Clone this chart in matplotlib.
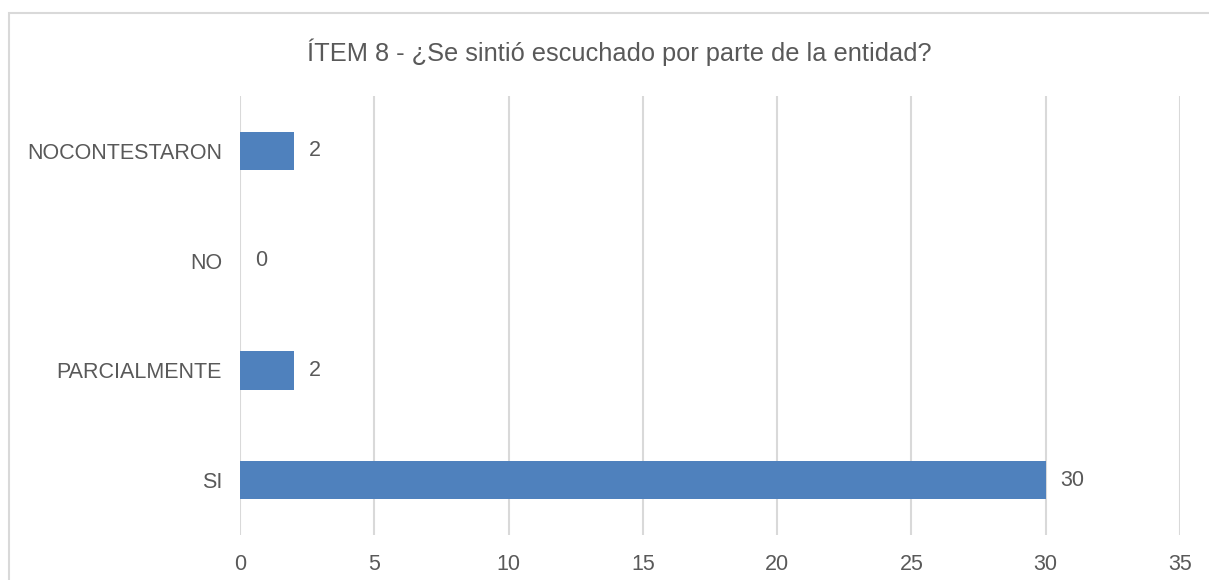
import matplotlib.pyplot as plt
from matplotlib.patches import Rectangle

categories = ["SI", "PARCIALMENTE", "NO", "NOCONTESTARON"]
values = [30, 2, 0, 2]
xticks = [0, 5, 10, 15, 20, 25, 30, 35]

title = "ÍTEM 8 - ¿Se sintió escuchado por parte de la entidad?"
bar_color = "#4F81BD"
text_color = "#595959"
grid_color = "#D9D9D9"

plt.rcParams['font.family'] = ['Liberation Sans', 'DejaVu Sans']

W, H = 1209, 580
fig = plt.figure(figsize=(W / 100, H / 100), dpi=100)
ax = fig.add_axes([240 / W, (H - 535) / H, (1180 - 240) / W, (535 - 96) / H])

pos = range(len(categories))
ax.barh(pos, values, height=0.35, color=bar_color, zorder=3)
for p, v in zip(pos, values):
    ax.text(v + 0.55, p, str(v), va="center", ha="left", fontsize=15.5, color=text_color)

ax.set_xlim(0, 35)
ax.set_ylim(-0.5, len(categories) - 0.5)
ax.set_xticks(xticks)
ax.set_yticks(list(pos))
ax.set_yticklabels(categories)
ax.tick_params(axis="both", length=0, labelsize=15.5, labelcolor=text_color)
ax.tick_params(axis="x", pad=14)
ax.tick_params(axis="y", pad=13)
ax.grid(axis="x", color=grid_color, linewidth=1.5, zorder=0)
for s in ax.spines.values():
    s.set_visible(False)

fig.text(619 / W, 1 - 52 / H, title, ha="center", va="center", fontsize=18.3, color=text_color)

# chart frame
fig.patches.append(Rectangle((8.5 / W, -0.1), 1.2, 1 - 13.5 / H + 0.1, transform=fig.transFigure,
                             fill=False, edgecolor=grid_color, linewidth=1.5))

fig.savefig("out.png", dpi=100)
